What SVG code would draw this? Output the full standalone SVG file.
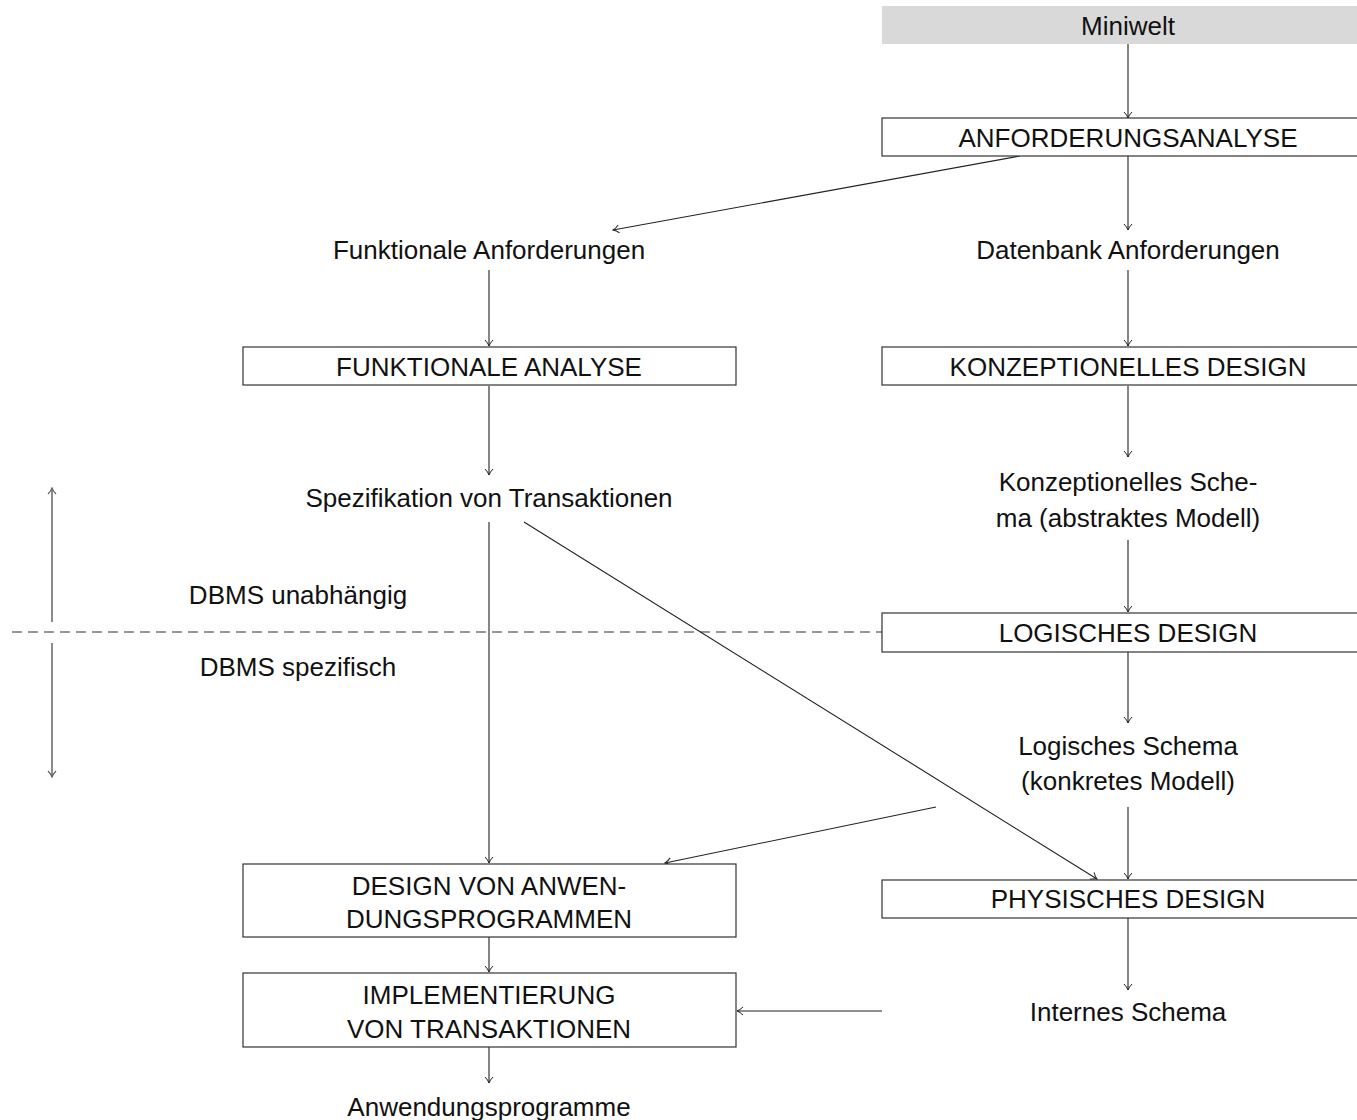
<svg xmlns="http://www.w3.org/2000/svg" width="1357" height="1120" viewBox="0 0 1357 1120">
<style>
text{font-family:"Liberation Sans",Arial,sans-serif;font-size:26px;fill:#111;text-anchor:middle}
.box{fill:#fff;stroke:#333;stroke-width:1.2}
.gray{fill:#d9d9d9;stroke:none}
.c{stroke:#222;stroke-width:1.1;fill:none}
.g{stroke:#666;stroke-width:1.5;fill:none}
.dash{stroke:#777;stroke-width:1.4;stroke-dasharray:10,6;fill:none}
</style>
<defs>
<marker id="ah" markerWidth="8" markerHeight="10" refX="7" refY="5" orient="auto" markerUnits="userSpaceOnUse">
<path d="M1,1 Q4,4 7,5 Q4,6 1,9" fill="none" stroke="#222" stroke-width="1"/>
</marker>
<marker id="ahg" markerWidth="8" markerHeight="10" refX="7" refY="5" orient="auto" markerUnits="userSpaceOnUse">
<path d="M1,1 Q4,4 7,5 Q4,6 1,9" fill="none" stroke="#666" stroke-width="1.2"/>
</marker>
</defs>
<rect width="1357" height="1120" fill="#fff"/>
<g id="connectors">
<line class="dash" x1="12" y1="632" x2="882" y2="632"/>
<line class="g" x1="52" y1="622" x2="52" y2="488" marker-end="url(#ahg)"/>
<line class="g" x1="52" y1="643" x2="52" y2="777" marker-end="url(#ahg)"/>
<line class="c" x1="1128" y1="44" x2="1128" y2="118" marker-end="url(#ah)"/>
<line class="c" x1="1128" y1="156" x2="1128" y2="230" marker-end="url(#ah)"/>
<line class="c" x1="1020" y1="156" x2="613" y2="230" marker-end="url(#ah)"/>
<line class="c" x1="489" y1="270" x2="489" y2="346" marker-end="url(#ah)"/>
<line class="c" x1="1128" y1="270" x2="1128" y2="346" marker-end="url(#ah)"/>
<line class="c" x1="489" y1="386" x2="489" y2="475" marker-end="url(#ah)"/>
<line class="c" x1="1128" y1="386" x2="1128" y2="457" marker-end="url(#ah)"/>
<line class="c" x1="1128" y1="540" x2="1128" y2="612" marker-end="url(#ah)"/>
<line class="c" x1="1128" y1="652" x2="1128" y2="723" marker-end="url(#ah)"/>
<line class="c" x1="1128" y1="807" x2="1128" y2="879" marker-end="url(#ah)"/>
<line class="c" x1="1128" y1="918" x2="1128" y2="990" marker-end="url(#ah)"/>
<line class="c" x1="489" y1="522" x2="489" y2="863" marker-end="url(#ah)"/>
<line class="c" x1="524" y1="522" x2="1097" y2="879" marker-end="url(#ah)"/>
<line class="c" x1="936" y1="807" x2="665" y2="863" marker-end="url(#ah)"/>
<line class="c" x1="489" y1="937" x2="489" y2="972" marker-end="url(#ah)"/>
<line class="c" x1="882" y1="1011" x2="737" y2="1011" marker-end="url(#ah)"/>
<line class="c" x1="489" y1="1047" x2="489" y2="1083" marker-end="url(#ah)"/>
</g>
<g id="miniwelt"><rect class="gray" x="882" y="6" width="480" height="38"/><text x="1128" y="35">Miniwelt</text></g>
<g id="anforderungsanalyse"><rect class="box" x="882" y="118" width="485" height="38"/><text x="1128" y="147">ANFORDERUNGSANALYSE</text></g>
<g id="funktionale-anforderungen"><text x="489" y="259">Funktionale Anforderungen</text></g>
<g id="datenbank-anforderungen"><text x="1128" y="259">Datenbank Anforderungen</text></g>
<g id="funktionale-analyse"><rect class="box" x="243" y="347" width="493" height="38"/><text x="489" y="376">FUNKTIONALE ANALYSE</text></g>
<g id="konzeptionelles-design"><rect class="box" x="882" y="347" width="485" height="38"/><text x="1128" y="376">KONZEPTIONELLES DESIGN</text></g>
<g id="spezifikation"><text x="489" y="507">Spezifikation von Transaktionen</text></g>
<g id="konzeptionelles-schema"><text x="1128" y="491">Konzeptionelles Sche-</text><text x="1128" y="527">ma (abstraktes Modell)</text></g>
<g id="dbms-unabhaengig"><text x="298" y="604">DBMS unabhängig</text></g>
<g id="dbms-spezifisch"><text x="298" y="676">DBMS spezifisch</text></g>
<g id="logisches-design"><rect class="box" x="882" y="613" width="485" height="39"/><text x="1128" y="642">LOGISCHES DESIGN</text></g>
<g id="logisches-schema"><text x="1128" y="755">Logisches Schema</text><text x="1128" y="790">(konkretes Modell)</text></g>
<g id="design-anwendungsprogramme"><rect class="box" x="243" y="864" width="493" height="73"/><text x="489" y="895">DESIGN VON ANWEN-</text><text x="489" y="928">DUNGSPROGRAMMEN</text></g>
<g id="physisches-design"><rect class="box" x="882" y="880" width="485" height="38"/><text x="1128" y="908">PHYSISCHES DESIGN</text></g>
<g id="implementierung"><rect class="box" x="243" y="973" width="493" height="74"/><text x="489" y="1004">IMPLEMENTIERUNG</text><text x="489" y="1038">VON TRANSAKTIONEN</text></g>
<g id="internes-schema"><text x="1128" y="1021">Internes Schema</text></g>
<g id="anwendungsprogramme"><text x="489" y="1116">Anwendungsprogramme</text></g>
</svg>
